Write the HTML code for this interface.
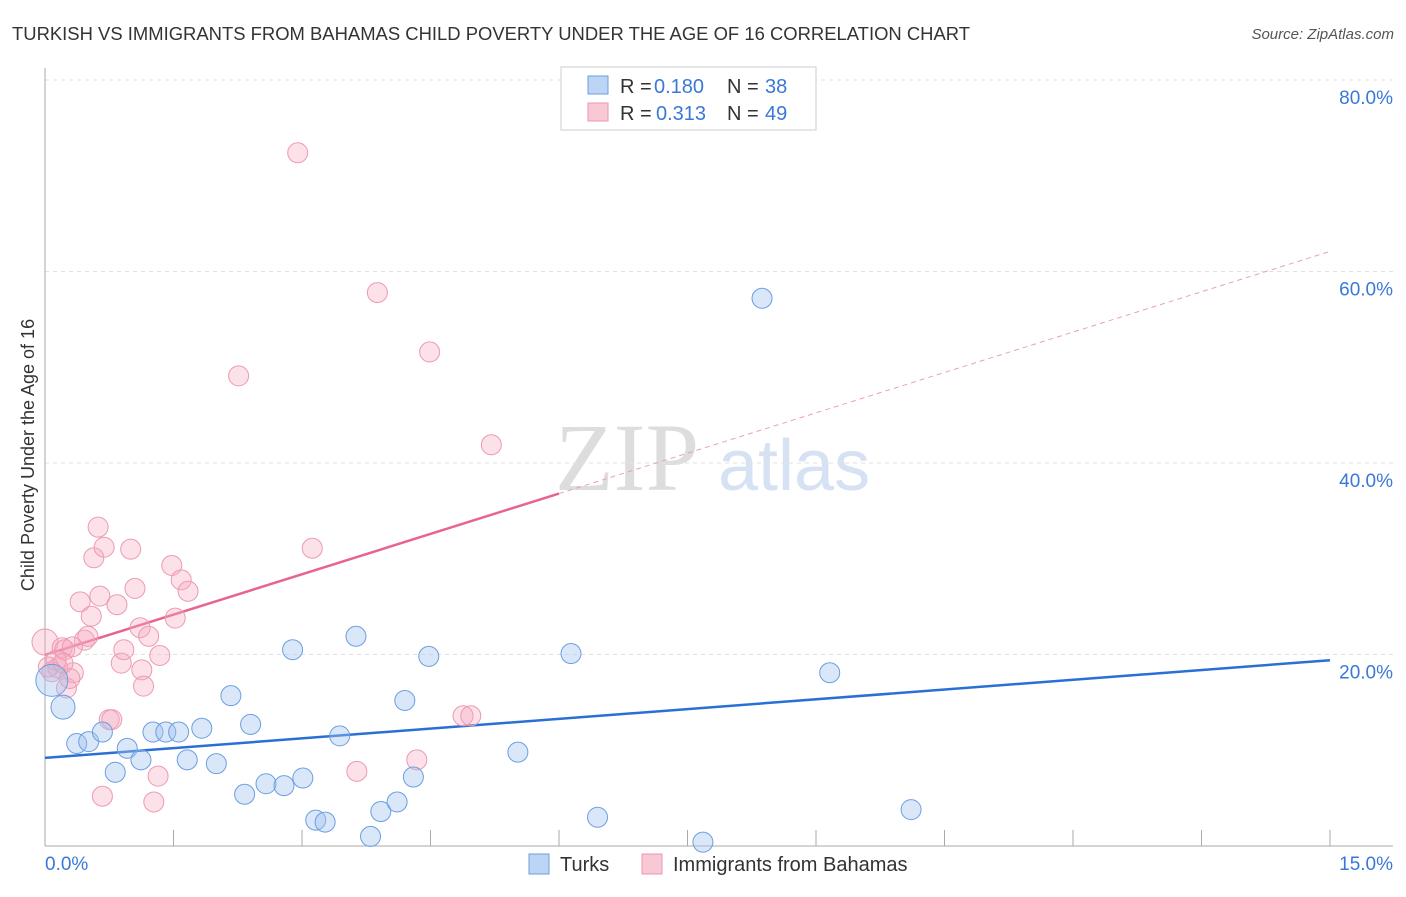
<!DOCTYPE html>
<html><head><meta charset="utf-8"><style>
body{margin:0;background:#fff;font-family:"Liberation Sans",sans-serif;}
</style></head><body>
<svg id="chart" width="1406" height="892" xmlns="http://www.w3.org/2000/svg" font-family="Liberation Sans, sans-serif">
<text x="12" y="40" font-size="18" fill="#333" textLength="958" lengthAdjust="spacingAndGlyphs">TURKISH VS IMMIGRANTS FROM BAHAMAS CHILD POVERTY UNDER THE AGE OF 16 CORRELATION CHART</text>
<text x="1394" y="39" font-size="15" fill="#555" text-anchor="end" font-style="italic">Source: ZipAtlas.com</text>
<text x="555" y="490" font-size="96" fill="#ddd" font-family="Liberation Serif, serif">ZIP</text>
<text x="718" y="490" font-size="72" fill="#d6e2f3">atlas</text>
<text transform="translate(34,455) rotate(-90)" font-size="18" fill="#333" text-anchor="middle">Child Poverty Under the Age of 16</text>
<g id="grid"></g><g id="axes"></g><g id="trend"></g><g id="pts"></g>
<g>
<rect x="561" y="67" width="255" height="63" fill="#fff" stroke="#ccc"/>
<rect x="588" y="76" width="20" height="18" fill="#bcd5f5" stroke="#6a9fe0"/>
<rect x="588" y="103" width="20" height="18" fill="#f9c8d5" stroke="#eb95ae"/>
<text x="620" y="93" font-size="20" fill="#333">R =</text>
<text x="654" y="93" font-size="20" fill="#3a78d8">0.180</text>
<text x="727" y="93" font-size="20" fill="#333">N =</text>
<text x="765" y="93" font-size="20" fill="#3a78d8">38</text>
<text x="620" y="120" font-size="20" fill="#333">R =</text>
<text x="656" y="120" font-size="20" fill="#3a78d8">0.313</text>
<text x="727" y="120" font-size="20" fill="#333">N =</text>
<text x="765" y="120" font-size="20" fill="#3a78d8">49</text>
</g>
<g>
<rect x="529" y="854" width="20" height="20" fill="#bcd5f5" stroke="#6a9fe0"/>
<text x="560" y="871" font-size="20" fill="#333">Turks</text>
<rect x="642" y="854" width="20" height="20" fill="#f9c8d5" stroke="#eb95ae"/>
<text x="673" y="871" font-size="20" fill="#333">Immigrants from Bahamas</text>
</g>
</svg>
<script>
const yTicks=[20,40,60,80];
const yTickLabels=["20.0%","40.0%","60.0%","80.0%"];
const xTickCount=10;
const turksX=[0.08,0.21,0.37,0.51,0.67,0.82,0.96,1.12,1.26,1.41,1.56,1.66,1.83,2.00,2.17,2.33,2.40,2.58,2.79,2.89,3.01,3.16,3.27,3.44,3.63,3.80,3.92,4.11,4.20,4.30,4.48,5.52,6.14,6.45,7.68,8.37,9.16,10.11];
const turksY=[17.3,14.5,10.7,10.9,11.9,7.7,10.2,9.0,11.9,11.9,11.9,9.0,12.3,8.6,15.7,5.4,12.7,6.5,6.3,20.5,7.1,2.7,2.5,11.5,21.9,1.0,3.6,4.6,15.2,7.2,19.8,9.8,20.1,3.0,0.4,57.2,18.1,3.8];
const bahX=[0,0.08,0.15,0.25,0.33,0.20,0.23,0.41,0.46,0.50,0.54,0.57,0.62,0.64,0.69,0.84,0.89,0.92,1.00,1.05,1.11,1.13,1.15,1.21,1.32,1.27,1.34,1.48,1.59,1.52,1.67,0.67,0.75,0.78,2.26,2.95,3.12,3.88,3.64,4.34,4.49,4.88,4.97,5.21,0.29,0.13,0.32,0.04,0.21];
const bahY=[21.3,18.2,18.6,16.5,18.1,20.7,20.5,25.5,21.5,21.9,24.0,30.1,33.3,26.1,31.2,25.2,19.1,20.5,31.0,26.9,22.8,18.4,16.7,21.9,7.3,4.6,19.9,29.3,27.8,23.8,26.6,5.2,13.2,13.2,49.1,72.4,31.1,57.8,7.8,9.0,51.6,13.6,13.6,41.9,17.5,19.4,20.8,18.7,19.1];
const turksTrend=[9.2,0.68];
const bahTrend=[19.95,2.81];
const X=v=>45+v/15*1285, Y=v=>846-v/20*191.5;
const NS="http://www.w3.org/2000/svg";
function mk(p,t,a){const e=document.createElementNS(NS,t);for(const k in a)e.setAttribute(k,a[k]);p.appendChild(e);return e;}
const grid=document.getElementById('grid'),axes=document.getElementById('axes'),trend=document.getElementById('trend'),pts=document.getElementById('pts');
yTicks.forEach((t,i)=>{
 const l=mk(grid,'line',{x1:45,x2:1393,y1:Y(t),y2:Y(t),stroke:'#e2e2e2','stroke-dasharray':'4,4'});
 
 
 const tx=mk(axes,'text',{x:1393,y:Y(t)+24,'font-size':19,fill:'#3a78d8','text-anchor':'end'});
 tx.textContent=yTickLabels[i];
 
 
});
const ax=mk(axes,'line',{x1:45,x2:45,y1:68,y2:846,stroke:'#aaa'});


const xa=mk(axes,'line',{x1:45,x2:1393,y1:846,y2:846,stroke:'#aaa'});


for(let i=1;i<=xTickCount;i++){const t=mk(axes,'line',{x1:X(i*1.5),x2:X(i*1.5),y1:830,y2:846,stroke:'#aaa'});
 
 }
[["0.0%",45,'start'],["15.0%",1393,'end']].forEach(d=>{const t=mk(axes,'text',{x:d[1],y:870,'font-size':19,fill:'#3a78d8','text-anchor':d[2]});t.textContent=d[0];
 
 });
let l1=mk(trend,'line',{x1:X(0),y1:Y(turksTrend[0]),x2:X(15),y2:Y(turksTrend[0]+15*turksTrend[1]),stroke:'#2a6fd6','stroke-width':2.5});


let l2=mk(trend,'line',{x1:X(0),y1:Y(bahTrend[0]),x2:X(6),y2:Y(bahTrend[0]+6*bahTrend[1]),stroke:'#e8648e','stroke-width':2.5});


let l3=mk(trend,'line',{x1:X(6),y1:Y(bahTrend[0]+6*bahTrend[1]),x2:X(15),y2:Y(bahTrend[0]+15*bahTrend[1]),stroke:'#eaa0b6','stroke-width':1,'stroke-dasharray':'5,4'});


bahX.forEach((x,i)=>{const c=mk(pts,'circle',{cx:X(x),cy:Y(bahY[i]),r:i==0?13:10,fill:'rgba(245,170,192,0.35)',stroke:'#ec9ab2','stroke-width':1});
 
 });
turksX.forEach((x,i)=>{const c=mk(pts,'circle',{cx:X(x),cy:Y(turksY[i]),r:i==0?16:(i==1?12:10),fill:'rgba(160,196,240,0.4)',stroke:'#6a9fe0','stroke-width':1});
 
 });
</script>
</body></html>
